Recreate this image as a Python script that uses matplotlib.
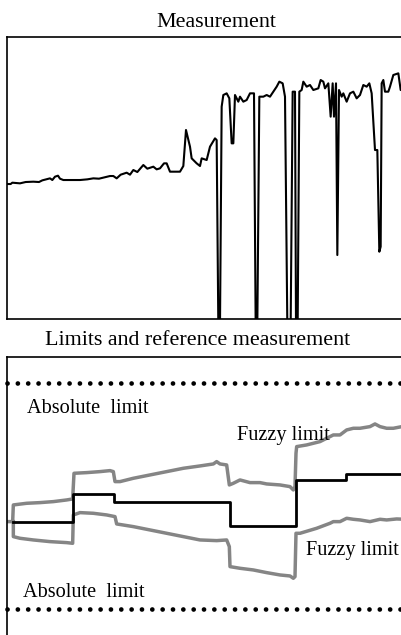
import matplotlib
matplotlib.use("Agg")
import matplotlib.pyplot as plt

plt.rcParams['font.family'] = ['Liberation Serif', 'DejaVu Serif']

# ---- Measurement (top panel) ----
meas_x = [0, 1.0, 1.5, 3.8, 5.5, 7.8, 9.5, 10.5, 12.8, 13.5, 14.3, 15.2, 15.8, 16.8, 21.8,
          24.0, 25.8, 27.5, 30.8, 31.8, 32.8, 34.0, 35.8, 36.8, 37.8, 39.0, 40.8, 42.0,
          43.8, 44.8, 45.8, 47.0, 47.8, 48.8, 51.8, 52.8, 53.6, 54.8, 55.3, 56.8, 57.8,
          58.3, 59.8, 60.8, 62.3, 62.8, 63.3, 63.8, 64.3, 64.8, 65.8, 66.6, 67.3, 67.8,
          68.3, 69.3, 69.8, 70.8, 71.8, 72.8, 74.0, 74.5, 75.0, 75.6, 76.8, 77.8, 78.8,
          79.8, 80.8, 81.6, 82.6, 83.3, 84.0, 85.0, 85.6, 86.3, 86.6, 87.1, 87.6, 88.3,
          88.8, 89.8, 90.8, 91.8, 93.3, 94.0, 94.8, 95.3, 96.3, 97.0, 97.6, 98.0, 98.6,
          99.0, 99.5, 100.3, 100.8, 101.8, 102.8, 103.8, 104.8, 105.8, 106.8, 107.8,
          108.6, 109.3, 110.3, 111.0, 111.6, 112.0, 112.3, 112.8, 113.3, 114.3, 114.8,
          115.8, 117.3, 118.0, 118.8]
meas_y = [40.4, 40.4, 40.8, 40.6, 41.0, 41.1, 41.0, 41.5, 42.1, 41.6, 42.6, 42.9, 42.0, 41.6,
          41.6, 41.8, 42.1, 42.0, 42.8, 42.8, 42.1, 43.2, 43.8, 43.2, 44.6, 44.0, 46.1,
          45.0, 45.6, 44.8, 45.1, 46.6, 46.6, 44.1, 44.1, 45.8, 56.6, 51.6, 48.1, 46.6,
          45.8, 48.1, 47.6, 51.6, 54.1, 53.6, -2, -2, 63.6, 67.1, 67.6, 66.1, 52.6, 52.6,
          67.1, 65.1, 66.6, 65.1, 65.6, 67.6, 67.6, -2, -2, 66.6, 66.6, 67.1, 66.6,
          68.1, 69.6, 71.1, 70.6, 66.6, -2, -2, 68.1, 68.1, -2, -2, 68.1, 68.6,
          71.1, 69.6, 70.1, 68.6, 69.1, 71.6, 71.1, 69.1, 70.6, 60.6, 70.6, 60.6, 70.6,
          19.1, 68.6, 66.6, 67.6, 65.1, 67.6, 68.1, 66.1, 67.1, 70.1, 69.6,
          70.6, 67.6, 50.6, 50.6, 20.1, 21.6, 70.6, 71.6, 68.1, 68.1, 69.6,
          73.1, 73.6, 68.6, 68.6]

# ---- Limits and reference (bottom panel) ----
ref_x = [1.8, 19.6, 32.1, 66.7, 86.5, 101.5, 120]
ref_y = [39.5, 47.8, 45.5, 38.2, 52.0, 53.7, 53.7]

upper_x = [-0.2, 1.6, 1.8, 5.8, 9.8, 13.8, 17.8, 19.6, 20.0, 23.8, 27.8, 30.8, 31.8, 32.3,
           33.8, 37.8, 42.8, 47.8, 52.8, 57.8, 61.8, 62.8, 63.8, 65.8, 66.6, 67.8, 69.8,
           72.8, 75.8, 77.8, 81.8, 84.8, 85.8, 86.3, 86.6, 86.8, 89.8, 93.8, 96.8, 97.8,
           99.8, 101.8, 103.8, 105.8, 108.8, 110.3, 111.8, 113.8, 115.8, 118.4, 119.3]
upper_y = [39.5, 39.5, 44.5, 45.0, 45.2, 45.5, 46.0, 46.3, 54.0, 54.2, 54.5, 54.8, 54.5, 51.5,
           51.5, 52.5, 53.5, 54.5, 55.5, 56.2, 56.8, 57.5, 56.8, 56.5, 50.5, 51.0, 52.0,
           51.2, 51.2, 50.8, 50.5, 50.0, 49.0, 50.0, 60.0, 62.0, 62.5, 63.5, 65.0, 65.5,
           65.5, 67.0, 67.5, 67.5, 68.0, 68.8, 68.0, 67.5, 67.5, 68.0, 68.0]

lower_x = [1.8, 1.8, 3.8, 7.8, 12.8, 17.8, 19.6, 19.8, 21.8, 25.8, 29.8, 32.3, 32.8, 37.8,
           42.8, 47.8, 52.8, 57.8, 62.8, 65.8, 66.6, 66.8, 69.8, 73.8, 77.8, 81.8, 84.8,
           85.8, 86.3, 86.6, 87.8, 92.8, 96.8, 97.8, 99.8, 101.8, 103.8, 105.8, 108.8,
           111.8, 113.8, 116.8, 119.3]
lower_y = [39.5, 35.0, 34.5, 34.0, 33.5, 33.2, 33.0, 41.5, 42.2, 42.0, 41.5, 41.0, 38.8, 38.0,
           37.0, 36.0, 35.0, 34.0, 33.8, 34.0, 32.0, 26.0, 25.5, 25.0, 24.2, 23.5, 23.2,
           22.5, 23.0, 36.0, 36.0, 37.5, 39.0, 39.5, 39.5, 40.5, 40.2, 40.0, 39.5,
           40.2, 40.0, 40.3, 40.2]

abs_upper = 81.0
abs_lower = 13.2

titles = ["Measurement", "Limits and reference measurement"]
labels = ["Absolute  limit", "Fuzzy limit", "Fuzzy limit", "Absolute  limit"]
label_x = [5.8, 68.8, 89.6, 4.6]
label_y = [72.2, 64.0, 29.5, 16.8]

W, H = 402, 635
fig = plt.figure(figsize=(W / 100, H / 100), dpi=100)

ax1 = fig.add_axes([7.33 / W, (H - 318.7) / H, 400 / W, 281.7 / H])
ax1.plot(meas_x, meas_y, color='black', lw=1.5)
ax1.set_xlim(0, 120)
ax1.set_ylim(0, 84.5)

ax2 = fig.add_axes([7.33 / W, (H - 653.3) / H, 400 / W, 296.7 / H])
ax2.plot(upper_x, upper_y, color='#858585', lw=2.5, solid_joinstyle='round', zorder=2)
ax2.plot(lower_x, lower_y, color='#858585', lw=2.5, solid_joinstyle='round', zorder=2)
ax2.plot(ref_x, ref_y, color='black', lw=2.0, drawstyle='steps-post', zorder=3)
for yv in (abs_upper, abs_lower):
    ax2.axhline(yv, color='black', lw=3.4, linestyle=(0, (0.01, 2.18)),
                dash_capstyle='round', zorder=3, clip_on=False)
for t, xv, yv in zip(labels, label_x, label_y):
    ax2.text(xv, yv, t, fontsize=14.6, ha='left', va='baseline', zorder=5)
ax2.set_xlim(0, 120)
ax2.set_ylim(0, 89)

for ax in (ax1, ax2):
    ax.set_xticks([])
    ax.set_yticks([])
    for s in ax.spines.values():
        s.set_linewidth(1.2)
        s.set_color('black')

fig.text(156 / W, (H - 26.7) / H, titles[0], fontsize=15.8, ha='left', va='baseline')
fig.text(45 / W, (H - 345) / H, titles[1], fontsize=15.8, ha='left', va='baseline')

fig.savefig("out.png", dpi=100)
